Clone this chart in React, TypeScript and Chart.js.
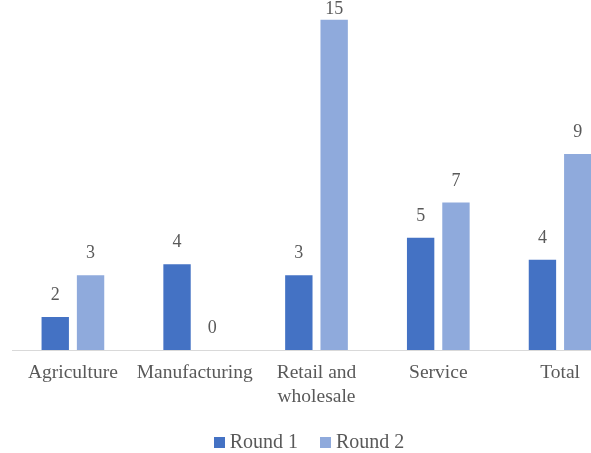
import React, { useEffect, useRef } from "react";
import { Chart, registerables } from "chart.js";

Chart.register(...registerables);

const categories: (string | string[])[] = [
  "Agriculture",
  "Manufacturing",
  ["Retail and", "wholesale"],
  "Service",
  "Total",
];
const round1 = [1.5, 3.9, 3.4, 5.1, 4.1];
const round2 = [3.4, 0, 15.0, 6.7, 8.9];
const seriesNames = ["Round 1", "Round 2"];
const seriesColors = ["#4472C4", "#8FAADC"];
const yMax = 15.9;

const FONT = "'Liberation Serif', 'Times New Roman', serif";
const TEXT = "#595959";

const valueLabels = {
  id: "valueLabels",
  afterDatasetsDraw(chart: any) {
    const ctx = chart.ctx;
    ctx.save();
    ctx.font = `18px ${FONT}`;
    ctx.fillStyle = TEXT;
    ctx.textAlign = "center";
    ctx.textBaseline = "alphabetic";
    chart.data.datasets.forEach((ds: any, di: number) => {
      const meta = chart.getDatasetMeta(di);
      meta.data.forEach((bar: any, i: number) => {
        const v = ds.data[i];
        let y = bar.y - 17;
        const minY = chart.chartArea.top + 14;
        if (y < minY) y = minY;
        ctx.fillText(Number(v).toFixed(0), bar.x, y);
      });
    });
    ctx.restore();
  },
};

export default function App() {
  const ref = useRef<HTMLCanvasElement>(null);
  useEffect(() => {
    if (!ref.current) return;
    const chart = new Chart(ref.current, {
      type: "bar",
      data: {
        labels: categories,
        datasets: [
          {
            label: seriesNames[0],
            data: round1,
            backgroundColor: seriesColors[0],
            categoryPercentage: 0.58,
            barPercentage: 0.775,
          },
          {
            label: seriesNames[1],
            data: round2,
            backgroundColor: seriesColors[1],
            categoryPercentage: 0.58,
            barPercentage: 0.775,
          },
        ],
      },
      options: {
        responsive: false,
        animation: false,
        devicePixelRatio: 1,
        layout: { padding: { left: 12, right: 11, top: 0, bottom: 43 } },
        plugins: {
          legend: { display: false },
          tooltip: { enabled: false },
        },
        scales: {
          x: {
            grid: { display: false, drawTicks: false },
            border: { display: true, color: "#D9D9D9", width: 1 },
            ticks: {
              color: TEXT,
              font: { family: FONT, size: 19.5, lineHeight: 1.23 },
              padding: 11,
              maxRotation: 0,
              autoSkip: false,
            },
            afterFit: (scale: any) => {
              scale.height = 60;
            },
          },
          y: {
            display: false,
            min: 0,
            max: yMax,
          },
        },
      },
      plugins: [valueLabels],
    });
    return () => chart.destroy();
  }, []);

  return (
    <div
      style={{
        position: "fixed",
        left: 0,
        top: 0,
        width: 591,
        height: 453,
        overflow: "hidden",
        background: "#fff",
      }}
    >
      <canvas ref={ref} width={632} height={453} style={{ width: 632, height: 453, display: "block" }} />
      <div
        style={{
          position: "absolute",
          left: 0,
          width: 618,
          top: 431,
          display: "flex",
          justifyContent: "center",
          fontFamily: FONT,
          fontSize: 20,
          lineHeight: "20px",
          color: TEXT,
        }}
      >
        {seriesNames.map((n, i) => (
          <div key={n} style={{ display: "flex", alignItems: "flex-end", marginLeft: i === 0 ? 0 : 22 }}>
            <span
              style={{
                display: "inline-block",
                width: 11,
                height: 11,
                background: seriesColors[i],
                marginRight: 5,
                marginBottom: 3,
              }}
            />
            <span>{n}</span>
          </div>
        ))}
      </div>
    </div>
  );
}
